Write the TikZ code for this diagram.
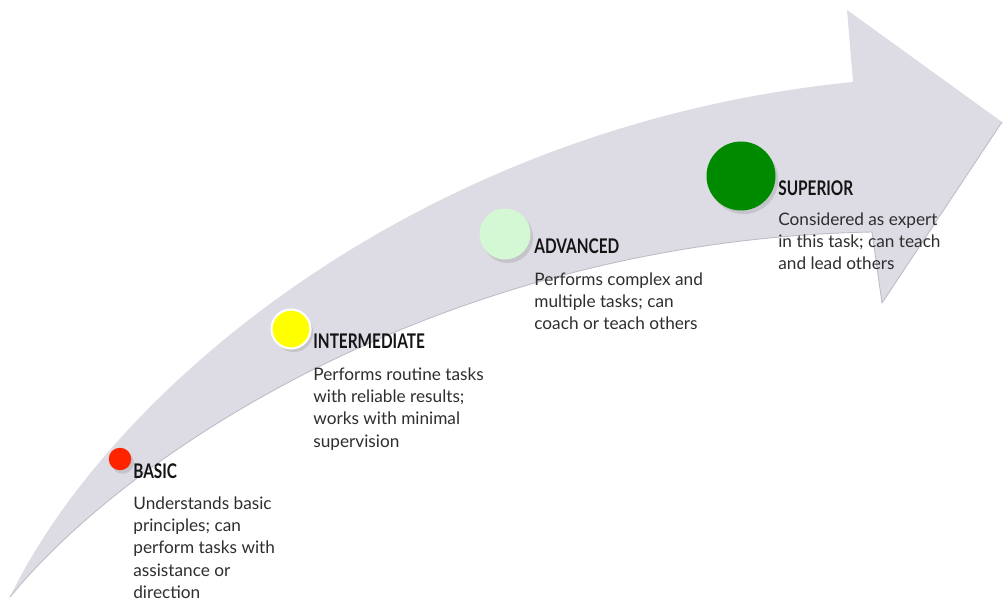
\documentclass[tikz,border=0pt]{standalone}
\usepackage{fontspec}
\setmainfont{Lato}
\newfontfamily\headfont[FakeStretch=0.76]{Lato}
\usetikzlibrary{shadows}

\definecolor{bandgray}{RGB}{221,219,228}
\definecolor{bandedge}{RGB}{190,188,198}
\definecolor{basicred}{RGB}{255,36,0}
\definecolor{midyellow}{RGB}{255,255,0}
\definecolor{advgreen}{RGB}{212,248,212}
\definecolor{supgreen}{RGB}{0,138,0}

\tikzset{
  dot/.style={circle, inner sep=0, drop shadow={opacity=0.25, shadow xshift=0.3ex, shadow yshift=-0.4ex}},
  level/.style={font=\headfont\bfseries\fontsize{11.5}{13}\selectfont, inner sep=0, anchor=base west, text=black!92},
  note/.style={font=\fontsize{9.8}{12.75}\selectfont, inner sep=0, anchor=north west, align=left, text=black!82}
}

\begin{document}
\begin{tikzpicture}[x=0.02cm, y=-0.02cm, line join=round, line cap=round]
\useasboundingbox (0,0) rectangle (1003,601);
\path
(10,597) coordinate (tail)
(853,82) coordinate (U)
(847,10) coordinate (H1)
(1002,122) coordinate (tip)
(882,303) coordinate (H2)
(872,232) coordinate (L)
;
% curved band with its head
\fill[bandgray] (tail) .. controls (110,390) and (420,125) .. (U) -- (H1) -- (tip) -- (H2) -- (L) .. controls (450,240) and (130,450) .. (tail) -- cycle;
\draw[bandedge, line width=0.5pt] (tip) -- (H2) -- (L) .. controls (450,240) and (130,450) .. (tail);

% levels
\node[dot, fill=basicred, minimum size=0.45cm] (c1) at (120,459) {};
\node[dot, fill=midyellow, draw=white, line width=1.2pt, minimum size=0.78cm] (c2) at (291,329) {};
\node[dot, fill=advgreen, minimum size=1.02cm] (c3) at (505,234) {};
\node[dot, fill=supgreen, minimum size=1.38cm] (c4) at (741,176) {};

\node[level] (basic) at (133,478) {BASIC};
\node[note] (basicnote) at (133,496) {Understands basic\\principles; can\\perform tasks with\\assistance or\\direction};

\node[level] (inter) at (313,348) {INTERMEDIATE};
\node[note] (internote) at (313,367) {Performs routine tasks\\with reliable results;\\works with minimal\\supervision};

\node[level] (adv) at (534,253) {ADVANCED};
\node[note] (advnote) at (534,272) {Performs complex and\\multiple tasks; can\\coach or teach others};

\node[level] (sup) at (778,195) {SUPERIOR};
\node[note] (supnote) at (778,212) {Considered as expert\\in this task; can teach\\and lead others};
\end{tikzpicture}
\end{document}
